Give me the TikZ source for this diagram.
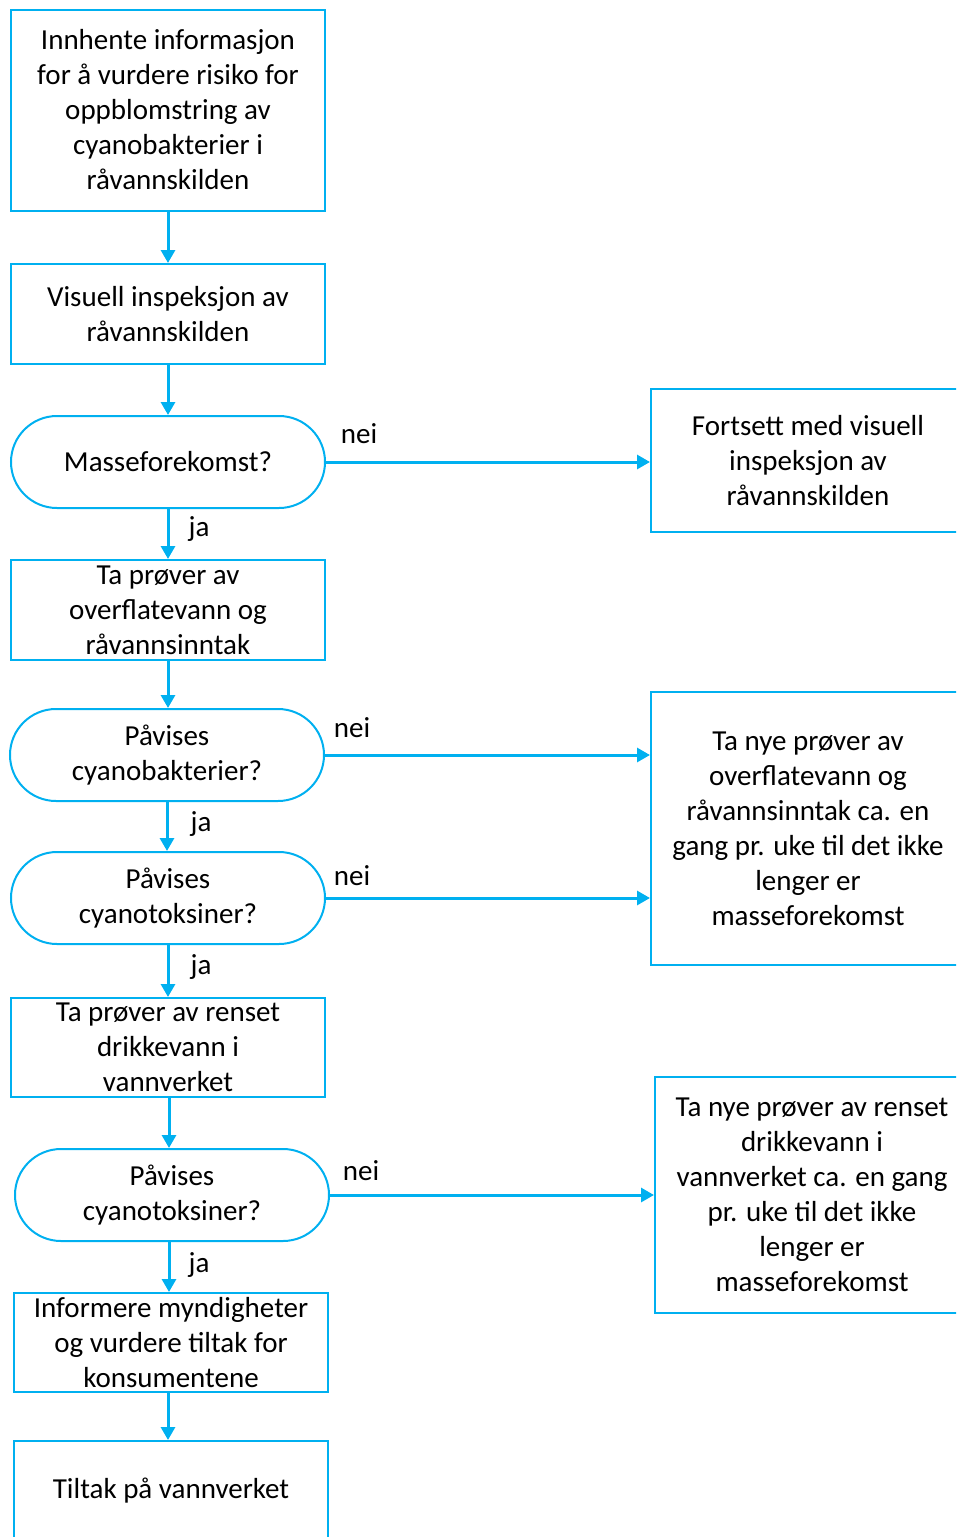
\documentclass[tikz,border=0pt]{standalone}
\usepackage{fontspec}
\setmainfont{Carlito}
\usetikzlibrary{arrows.meta}
\definecolor{flowblue}{RGB}{0,176,240}

\begin{document}
\begin{tikzpicture}[x=1pt, y=-1pt,
            every node/.style = {inner sep=0pt, align=center,
                                font=\fontsize{29}{35}\selectfont},
            box/.style = {shape=rectangle, draw=flowblue, line width=2pt,
                          minimum width=314pt},
            choice/.style = {box, rounded corners=46pt, minimum height=92pt},
            flow/.style = {draw=flowblue, line width=3pt,
                           -{Triangle[length=13pt,width=14pt]}}]
    \path[use as bounding box, clip] (0,0) rectangle (956,1537);

    % left column
    \node[box, minimum height=201pt] (info) at (168,110)
        {Innhente informasjon\\for å vurdere risiko for\\oppblomstring av\\cyanobakterier i\\råvannskilden};
    \node[box, minimum height=100pt] (visuell) at (168,314)
        {Visuell inspeksjon av\\råvannskilden};
    \node[choice] (masse) at (168,462) {Masseforekomst?};
    \node[box, minimum height=100pt] (prover) at (168,610)
        {Ta prøver av\\overflatevann og\\råvannsinntak};
    \node[choice] (bakt) at (167,755) {Påvises\\cyanobakterier?};
    \node[choice] (toks) at (168,898) {Påvises\\cyanotoksiner?};
    \node[box, minimum height=99pt] (renset) at (168,1047.5)
        {Ta prøver av renset\\drikkevann i\\vannverket};
    \node[choice] (toksb) at (172,1195) {Påvises\\cyanotoksiner?};
    \node[box, minimum height=99pt] (informere) at (171,1342.5)
        {Informere myndigheter\\og vurdere tiltak for\\konsumentene};
    \node[box, minimum height=100pt] (tiltak) at (171,1491) {Tiltak på vannverket};

    % right column
    \node[box, minimum height=143pt] (fortsett) at (808,460.5)
        {Fortsett med visuell\\inspeksjon av\\råvannskilden};
    \node[box, minimum height=273pt] (nyeraa) at (808,828.5)
        {Ta nye prøver av\\overflatevann og\\råvannsinntak ca. en\\gang pr. uke til det ikke\\lenger er\\masseforekomst};
    \node[box, minimum height=236pt] (nyeren) at (812,1195)
        {Ta nye prøver av renset\\drikkevann i\\vannverket ca. en gang\\pr. uke til det ikke\\lenger er\\masseforekomst};

    % labels
    \node (nei1) at (359,434) {nei};
    \node (nei2) at (352,728) {nei};
    \node (nei3) at (352,876) {nei};
    \node (nei4) at (361,1171) {nei};
    \node (ja1) at (199,529) {ja};
    \node (ja2) at (201,824) {ja};
    \node (ja3) at (201,967) {ja};
    \node (ja4) at (199,1265) {ja};

    % arrows
    \draw[flow] (info) -- (visuell);
    \draw[flow] (visuell) -- (masse);
    \draw[flow] (masse) -- (prover);
    \draw[flow] (prover) -- (prover.south |- bakt.north);
    \draw[flow] (bakt) -- (bakt.south |- toks.north);
    \draw[flow] (toks) -- (renset);
    \draw[flow] (renset.south -| 169,0) -- (toksb.north -| 169,0);
    \draw[flow] (toksb.south -| 169,0) -- (informere.north -| 169,0);
    \draw[flow] (informere.south -| 168,0) -- (tiltak.north -| 168,0);
    \draw[flow] (masse.east) -- (masse.east -| fortsett.west);
    \draw[flow] (bakt.east) -- (bakt.east -| nyeraa.west);
    \draw[flow] (toks.east) -- (toks.east -| nyeraa.west);
    \draw[flow] (toksb.east) -- (toksb.east -| nyeren.west);
\end{tikzpicture}
\end{document}
